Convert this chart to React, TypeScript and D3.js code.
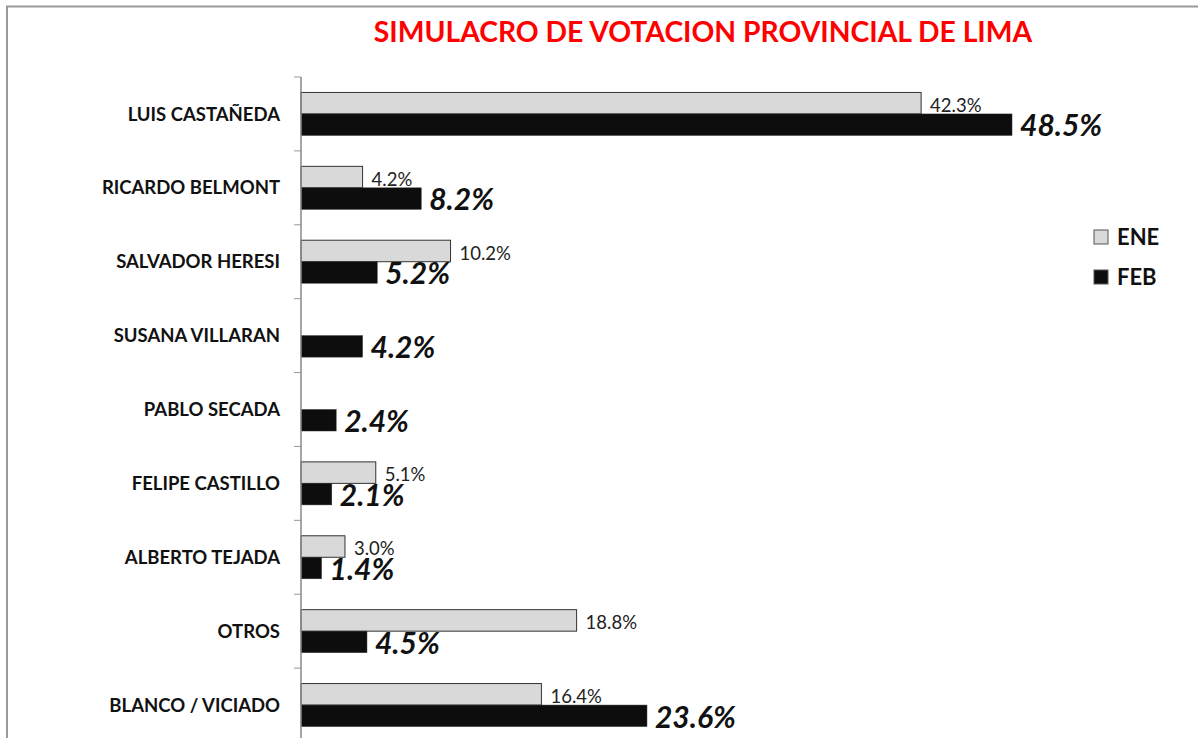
import React, { useEffect, useRef } from "react";
import * as d3 from "d3";

const categories = [
  "LUIS CASTAÑEDA",
  "RICARDO BELMONT",
  "SALVADOR HERESI",
  "SUSANA VILLARAN",
  "PABLO SECADA",
  "FELIPE CASTILLO",
  "ALBERTO TEJADA",
  "OTROS",
  "BLANCO / VICIADO",
];
const seriesKeys = ["ENE", "FEB"];
const eneValues: (number | null)[] = [42.3, 4.2, 10.2, null, null, 5.1, 3.0, 18.8, 16.4];
const febValues: (number | null)[] = [48.5, 8.2, 5.2, 4.2, 2.4, 2.1, 1.4, 4.5, 23.6];

const W = 1198;
const H = 738;
const FONT = "Lato, 'Open Sans', sans-serif";

export default function App() {
  const svgRef = useRef<SVGSVGElement>(null);

  useEffect(() => {
    const svg = d3.select(svgRef.current);
    svg.selectAll("*").remove();

    // outer frame
    svg
      .append("path")
      .attr("d", `M7,${H + 10}V6.5H${W + 10}`)
      .attr("fill", "none")
      .attr("stroke", "#999")
      .attr("stroke-width", 2);

    svg
      .append("text")
      .attr("x", 703)
      .attr("y", 42)
      .attr("text-anchor", "middle")
      .attr("font-family", FONT)
      .attr("font-weight", "bold")
      .attr("font-size", 28.3)
      .attr("fill", "#ff0000")
      .text("SIMULACRO DE VOTACION PROVINCIAL DE LIMA");

    const x0 = 301;
    const x = d3.scaleLinear().domain([0, 50]).range([x0, x0 + 50 * 14.66]);

    const y = d3
      .scaleBand()
      .domain(categories)
      .range([77, 742])
      .paddingInner(0.418)
      .paddingOuter(0.209);

    const ySub = d3.scaleBand().domain(seriesKeys).range([0, y.bandwidth()]);

    const rows = categories.map((c, i) => ({ cat: c, ENE: eneValues[i], FEB: febValues[i] }));

    // ticks at band boundaries
    const step = y.step();
    const tickYs = d3.range(categories.length + 1).map((i) => 77 + i * step);
    svg
      .append("g")
      .selectAll("line")
      .data(tickYs)
      .join("line")
      .attr("x1", x0 - 7)
      .attr("x2", x0)
      .attr("y1", (d) => d)
      .attr("y2", (d) => d)
      .attr("stroke", "#999")
      .attr("stroke-width", 1);

    // category labels
    svg
      .append("g")
      .selectAll("text")
      .data(categories)
      .join("text")
      .attr("x", 280)
      .attr("y", (d) => (y(d) as number) + y.bandwidth() / 2)
      .attr("dy", "0.36em")
      .attr("text-anchor", "end")
      .attr("font-family", FONT)
      .attr("font-weight", "bold")
      .attr("font-size", 18.5)
      .attr("fill", "#111")
      .text((d) => d);

    const groups = svg
      .append("g")
      .selectAll("g")
      .data(rows)
      .join("g")
      .attr("transform", (d) => `translate(0,${y(d.cat)})`);

    // ENE bars
    groups
      .filter((d) => d.ENE != null)
      .append("rect")
      .attr("x", x0)
      .attr("y", ySub("ENE") as number)
      .attr("width", (d) => x(d.ENE as number) - x0)
      .attr("height", ySub.bandwidth())
      .attr("fill", "#d9d9d9")
      .attr("stroke", "#333")
      .attr("stroke-width", 1);

    // FEB bars
    groups
      .filter((d) => d.FEB != null)
      .append("rect")
      .attr("x", x0)
      .attr("y", ySub("FEB") as number)
      .attr("width", (d) => x(d.FEB as number) - x0)
      .attr("height", ySub.bandwidth())
      .attr("fill", "#0d0d0d")
      .attr("stroke", "#333")
      .attr("stroke-width", 0.5);

    // ENE labels
    groups
      .filter((d) => d.ENE != null)
      .append("text")
      .attr("x", (d) => x(d.ENE as number) + 9)
      .attr("y", (ySub("ENE") as number) + ySub.bandwidth() - 2)
      .attr("font-family", FONT)
      .attr("font-size", 18.5)
      .attr("fill", "#222")
      .text((d) => `${(d.ENE as number).toFixed(1)}%`);

    // FEB labels
    groups
      .filter((d) => d.FEB != null)
      .append("text")
      .attr("x", (d) => x(d.FEB as number) + 8)
      .attr("y", (ySub("FEB") as number) + ySub.bandwidth() + 1)
      .attr("font-family", FONT)
      .attr("font-weight", "bold")
      .attr("font-style", "italic")
      .attr("font-size", 30)
      .attr("fill", "#111")
      .text((d) => `${(d.FEB as number).toFixed(1)}%`);

    // axis line
    svg
      .append("line")
      .attr("x1", x0)
      .attr("x2", x0)
      .attr("y1", 77)
      .attr("y2", H)
      .attr("stroke", "#888")
      .attr("stroke-width", 1.5);

    // legend
    const legend = svg
      .append("g")
      .selectAll("g")
      .data(seriesKeys)
      .join("g")
      .attr("transform", (_d, i) => `translate(1094,${230 + i * 40})`);
    legend
      .append("rect")
      .attr("width", 14)
      .attr("height", 14)
      .attr("fill", (d) => (d === "ENE" ? "#d9d9d9" : "#0d0d0d"))
      .attr("stroke", "#555")
      .attr("stroke-width", 1);
    legend
      .append("text")
      .attr("x", 23)
      .attr("y", 15)
      .attr("font-family", FONT)
      .attr("font-weight", "bold")
      .attr("font-size", 22)
      .attr("fill", "#111")
      .text((d) => d);
  }, []);

  return (
    <svg
      ref={svgRef}
      width={W}
      height={H}
      style={{ position: "absolute", left: 0, top: 0, background: "#fff" }}
    />
  );
}
